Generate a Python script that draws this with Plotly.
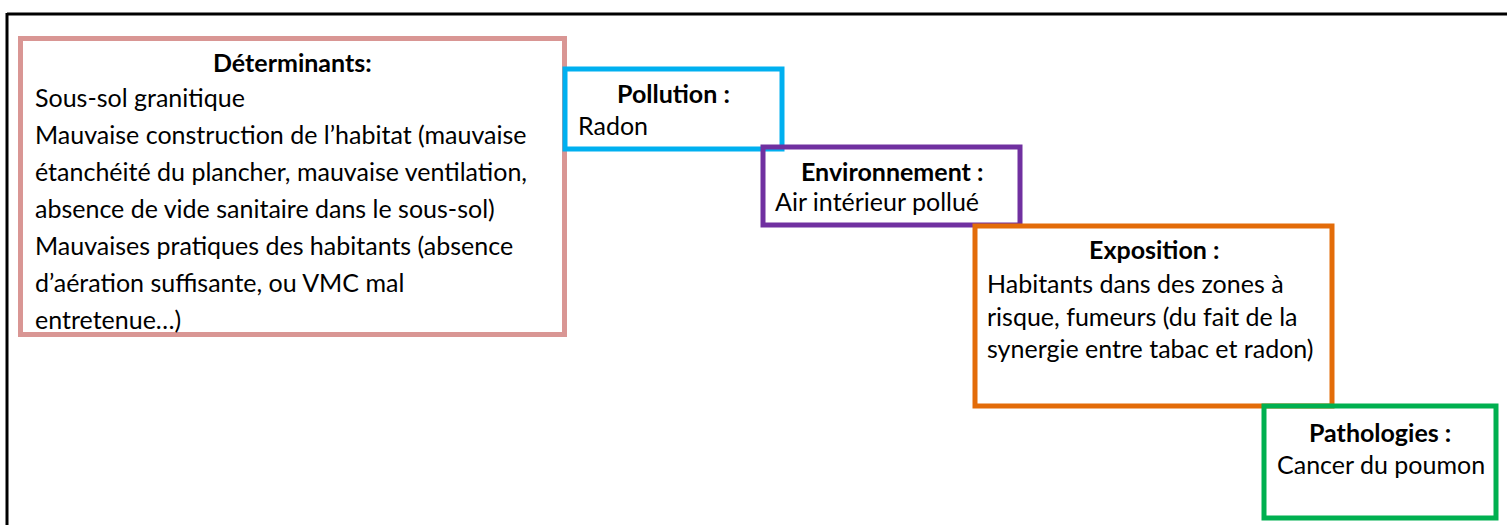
import plotly.graph_objects as go

# ---- content ----
titles = ["Déterminants:", "Pollution :", "Environnement :", "Exposition :", "Pathologies :"]
bodies = [
    ["Sous-sol granitique",
     "Mauvaise construction de l’habitat (mauvaise",
     "étanchéité du plancher, mauvaise ventilation,",
     "absence de vide sanitaire dans le sous-sol)",
     "Mauvaises pratiques des habitants (absence",
     "d’aération suffisante, ou VMC mal",
     "entretenue…)"],
    ["Radon"],
    ["Air intérieur pollué"],
    ["Habitants dans des zones à",
     "risque, fumeurs (du fait de la",
     "synergie entre tabac et radon)"],
    ["Cancer du poumon"],
]
colors = ["#D99694", "#00B0F0", "#7030A0", "#E36C09", "#00B050"]

# ---- layout (pixel geometry) ----
boxes = [  # x0, y0, x1, y1 (stroke centres)
    (20.5, 38.5, 564.5, 334.5),
    (565, 69, 782, 149),
    (763, 147, 1020, 225),
    (975, 226, 1332, 406),
    (1264, 406, 1496, 518),
]
title_y = [62, 93, 171, 249, 432]
body_x = [33, 576, 773, 985, 1275]
body_y0 = [97, 125, 201, 283, 464]
body_dy = [37, 32, 32, 32.5, 32]

W, H = 1507, 525
FONT = "Lato"
FS = 25

fig = go.Figure()
fig.add_trace(go.Scatter(x=[0, W], y=[0, H], mode="markers",
                         marker=dict(opacity=0), hoverinfo="skip", showlegend=False))

shapes = [
    dict(type="line", x0=7, y0=14, x1=W + 5, y1=14, line=dict(color="black", width=3)),
    dict(type="line", x0=7, y0=13, x1=7, y1=H + 5, line=dict(color="black", width=3)),
]
for (x0, y0, x1, y1), c in zip(boxes, colors):
    shapes.append(dict(type="rect", x0=x0, y0=y0, x1=x1, y1=y1,
                       line=dict(color=c, width=5), fillcolor="rgba(0,0,0,0)"))

annotations = []
for i, (t, b) in enumerate(zip(titles, bodies)):
    x0, y0, x1, y1 = boxes[i]
    annotations.append(dict(x=(x0 + x1) / 2, y=title_y[i], text="<b>" + t + "</b>",
                            showarrow=False, xanchor="center", yanchor="middle",
                            font=dict(family=FONT, size=FS, color="black")))
    for j, line in enumerate(b):
        annotations.append(dict(x=body_x[i], y=body_y0[i] + j * body_dy[i], text=line,
                                showarrow=False, xanchor="left", yanchor="middle",
                                font=dict(family=FONT, size=FS, color="black")))

fig.update_layout(
    width=W, height=H,
    margin=dict(l=0, r=0, t=0, b=0),
    paper_bgcolor="white", plot_bgcolor="white",
    xaxis=dict(range=[0, W], visible=False, fixedrange=True),
    yaxis=dict(range=[H, 0], visible=False, fixedrange=True),
    shapes=shapes, annotations=annotations,
)
fig.write_html("out.html", config={"displayModeBar": False},
               post_script="document.body.style.margin='0';document.body.style.overflow='hidden';")
